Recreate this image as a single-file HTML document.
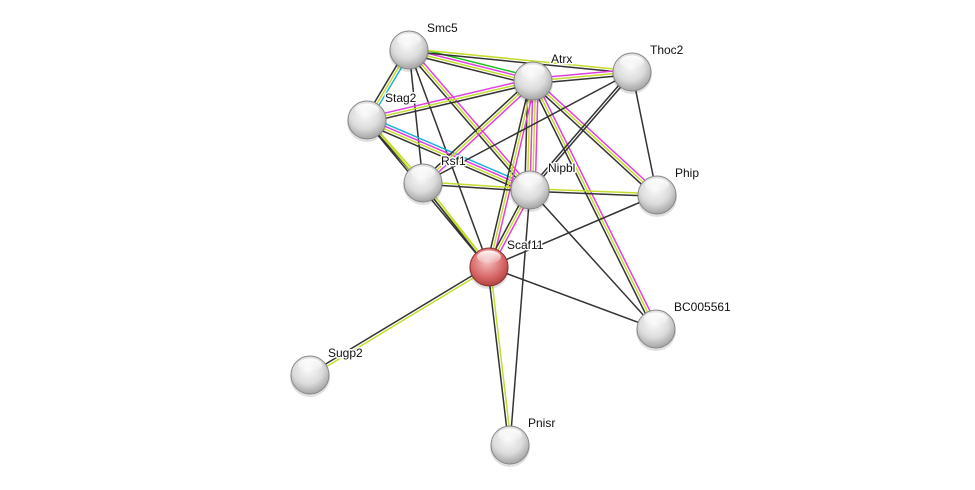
<!DOCTYPE html>
<html><head><meta charset="utf-8"><style>
html,body{margin:0;padding:0;background:#fff;}
svg{display:block;}
text{font-family:"Liberation Sans",sans-serif;font-size:12px;fill:#111;stroke:#fff;stroke-width:3px;paint-order:stroke;stroke-linejoin:round;}
</style></head><body>
<svg id="s" width="975" height="490" viewBox="0 0 975 490" xmlns="http://www.w3.org/2000/svg">
<defs>
<radialGradient id="gw" cx="0.45" cy="0.35" r="0.7">
<stop offset="0" stop-color="#fafafa"/><stop offset="0.55" stop-color="#dcdcdc"/><stop offset="1" stop-color="#9a9a9a"/>
</radialGradient>
<radialGradient id="gr" cx="0.45" cy="0.35" r="0.7">
<stop offset="0" stop-color="#f7c0c0"/><stop offset="0.6" stop-color="#d86a6a"/><stop offset="1" stop-color="#a83a3a"/>
</radialGradient>
<linearGradient id="hl" x1="0" y1="0" x2="0" y2="1">
<stop offset="0" stop-color="#fff" stop-opacity="0.95"/><stop offset="1" stop-color="#fff" stop-opacity="0.1"/>
</linearGradient>
</defs>
<g id="edges"></g>
<g id="nodes"></g>
</svg>
<script>
var N={Smc5:[409,50],Atrx:[533,81],Thoc2:[632,72],Stag2:[367,120],Rsf1:[423,183],Nipbl:[530,190],Phip:[657,195],Scaf11:[489,267],BC005561:[656,329],Sugp2:[310,375],Pnisr:[510,445]};
var C={k:"#333333",y:"#c5dc2c",m:"#e040e0",c:"#20b0e0",g:"#20c020"};
var E=[
["Smc5","Atrx","gmyk"],["Smc5","Thoc2","yk"],["Smc5","Stag2","cyk"],["Smc5","Rsf1","k"],["Smc5","Nipbl","myk"],["Smc5","Scaf11","k"],
["Stag2","Atrx","myk"],["Stag2","Rsf1","yk"],["Stag2","Nipbl","cmyk"],["Stag2","Scaf11","yk"],
["Atrx","Thoc2","myk"],["Atrx","Rsf1","myk"],["Atrx","Nipbl","mymyk"],["Atrx","Scaf11","myk"],["Atrx","Phip","myk"],["Atrx","BC005561","myk"],
["Thoc2","Phip","k"],["Thoc2","Nipbl","kk"],["Thoc2","Rsf1","k"],
["Rsf1","Nipbl","yk"],["Rsf1","Scaf11","yk"],
["Nipbl","Phip","yk"],["Nipbl","Scaf11","myk"],["Nipbl","BC005561","k"],["Nipbl","Pnisr","k"],
["Scaf11","Phip","k"],["Scaf11","BC005561","k"],["Scaf11","Sugp2","yk"],["Scaf11","Pnisr","yk"]];
var ns="http://www.w3.org/2000/svg",eg=document.getElementById("edges"),ng=document.getElementById("nodes");
E.forEach(function(e){var a=N[e[0]],b=N[e[1]],dx=b[0]-a[0],dy=b[1]-a[1],L=Math.hypot(dx,dy),px=-dy/L,py=dx/L,n=e[2].length,sp=2.6;
for(var i=0;i<n;i++){var o=(i-(n-1)/2)*sp,l=document.createElementNS(ns,"line");
l.setAttribute("x1",a[0]+px*o);l.setAttribute("y1",a[1]+py*o);l.setAttribute("x2",b[0]+px*o);l.setAttribute("y2",b[1]+py*o);
l.setAttribute("stroke",C[e[2][i]]);l.setAttribute("stroke-width","1.5");eg.appendChild(l);}});
for(var k in N){var p=N[k],g=document.createElementNS(ns,"g");
g.innerHTML='<circle cx="'+p[0]+'" cy="'+(p[1]+2)+'" r="20" fill="#000" opacity="0.12"/>'+
'<circle cx="'+p[0]+'" cy="'+p[1]+'" r="19" fill="url(#'+(k=="Scaf11"?"gr":"gw")+')" stroke="'+(k=="Scaf11"?"#8a3030":"#888")+'" stroke-width="1"/>'+
'<ellipse cx="'+p[0]+'" cy="'+(p[1]-10)+'" rx="12" ry="6.5" fill="url(#hl)"/>'+
'<text x="'+(p[0]+18)+'" y="'+(p[1]-18)+'">'+k+'</text>';
ng.appendChild(g);}
</script>
</body></html>
